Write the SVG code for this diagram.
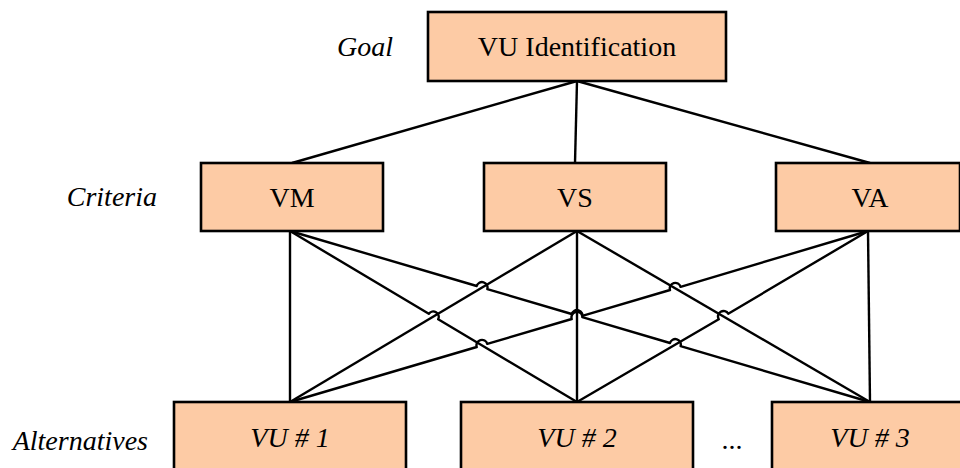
<svg xmlns="http://www.w3.org/2000/svg" width="960" height="468" viewBox="0 0 960 468">
  <style>
    .box { fill: #FDCBA5; stroke: #000; stroke-width: 2.6; }
    .lbl { font-family: "Liberation Serif", "Times New Roman", serif; font-size: 28px; fill: #000; text-anchor: middle; }
    .it { font-style: italic; }
    .side { font-family: "Liberation Serif", "Times New Roman", serif; font-size: 28px; font-style: italic; fill: #000; text-anchor: end; }
    .wire { fill: none; stroke: #000; stroke-width: 2.4; stroke-linejoin: round; }
  </style>
  <rect width="960" height="468" fill="#fff"/>

  <!-- level captions -->
  <g id="captions">
    <text class="side" x="393" y="56">Goal</text>
    <text class="side" x="157" y="206">Criteria</text>
    <text class="side" x="148" y="450">Alternatives</text>
    <text class="lbl" x="732" y="449">...</text>
  </g>

  <!-- connectors -->
  <g id="connectors" class="wire">
    <!-- goal to criteria -->
    <path d="M577 81 L292 163"/>
    <path d="M577 81 L575 163"/>
    <path d="M577 81 L870 163"/>
    <!-- straight drops -->
    <path d="M290 231 L290 402"/>
    <path d="M577 231 L577 402"/>
    <path d="M868 231 L870 402"/>
    <!-- crossing lines, with jumps where they pass over others -->
    <path d="M290 231 L428.8 313.7 A5.5 5.5 0 0 1 438.2 319.3 L577 402"/>
    <path d="M290 231 L476.7 286 A5.5 5.5 0 0 1 487.3 289.2 L571.7 314 A5.5 5.5 0 0 1 582.3 317.2 L670 343 A5.5 5.5 0 0 1 680.6 346.2 L870 402"/>
    <path d="M577 231 L290 402"/>
    <path d="M577 231 L870 402"/>
    <path d="M290 402 L476.7 347 A5.5 5.5 0 0 1 487.3 343.8 L571.7 319 A5.5 5.5 0 0 1 582.3 315.8 L670 290 A5.5 5.5 0 0 1 680.6 286.8 L868 231"/>
    <path d="M577 402 L718.75 319.3 A5.5 5.5 0 0 1 728.25 313.7 L868 231"/>
  </g>

  <!-- goal -->
  <g id="goal">
    <rect class="box" x="428" y="12" width="298" height="69"/>
    <text class="lbl" x="577" y="56">VU Identification</text>
  </g>

  <!-- criteria -->
  <g id="vm">
    <rect class="box" x="201" y="163" width="182" height="68"/>
    <text class="lbl" x="292" y="207">VM</text>
  </g>
  <g id="vs">
    <rect class="box" x="484" y="163" width="182" height="68"/>
    <text class="lbl" x="575" y="207">VS</text>
  </g>
  <g id="va">
    <rect class="box" x="776" y="163" width="184" height="68"/>
    <text class="lbl" x="870" y="207">VA</text>
  </g>

  <!-- alternatives -->
  <g id="vu1">
    <rect class="box" x="174" y="402" width="232" height="80"/>
    <text class="lbl it" x="290" y="447">VU # 1</text>
  </g>
  <g id="vu2">
    <rect class="box" x="461" y="402" width="232" height="80"/>
    <text class="lbl it" x="577" y="447">VU # 2</text>
  </g>
  <g id="vu3">
    <rect class="box" x="772" y="402" width="200" height="80"/>
    <text class="lbl it" x="870" y="447">VU # 3</text>
  </g>
</svg>
